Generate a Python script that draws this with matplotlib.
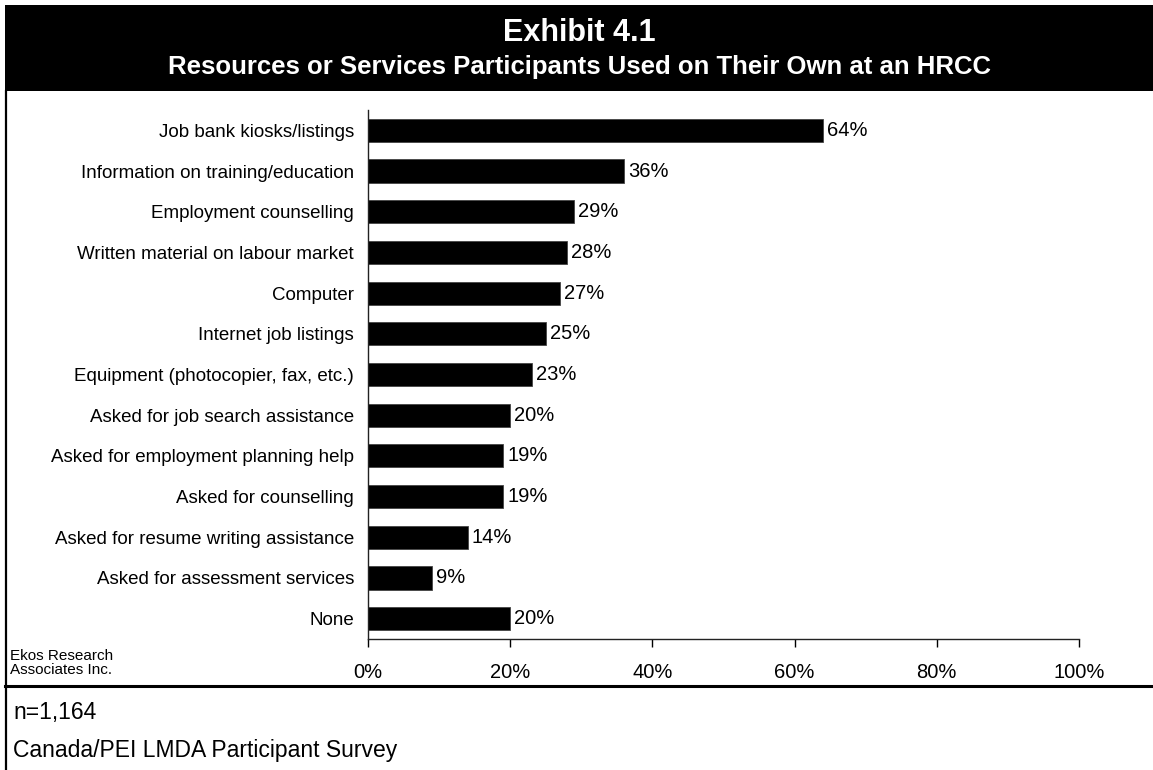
import matplotlib
matplotlib.use("Agg")
import matplotlib.pyplot as plt
from matplotlib.patches import Rectangle
from matplotlib.lines import Line2D
from matplotlib.ticker import FuncFormatter

plt.rcParams['font.family'] = ['Liberation Sans', 'DejaVu Sans']

categories = [
    "Job bank kiosks/listings",
    "Information on training/education",
    "Employment counselling",
    "Written material on labour market",
    "Computer",
    "Internet job listings",
    "Equipment (photocopier, fax, etc.)",
    "Asked for job search assistance",
    "Asked for employment planning help",
    "Asked for counselling",
    "Asked for resume writing assistance",
    "Asked for assessment services",
    "None",
]
values = [64, 36, 29, 28, 27, 25, 23, 20, 19, 19, 14, 9, 20]
xticks = [0, 20, 40, 60, 80, 100]

title = "Exhibit 4.1"
subtitle = "Resources or Services Participants Used on Their Own at an HRCC"
sample_note = "n=1,164"
source_note = "Canada/PEI LMDA Participant Survey"
credit = "Ekos Research\nAssociates Inc."

W, H = 1153, 770
fig = plt.figure(figsize=(W / 100, H / 100), dpi=100)

# header band
fig.patches.append(Rectangle((5 / W, 1 - 91 / H), 1 - 5 / W, 86 / H,
                             transform=fig.transFigure, facecolor="black",
                             edgecolor="none", zorder=0))
cx = 0.5 * (1 + 5 / W)
fig.text(cx, 1 - 33 / H, title, color="white", fontsize=22,
         fontweight="bold", ha="center", va="center")
fig.text(cx, 1 - 67 / H, subtitle, color="white", fontsize=18.5,
         fontweight="bold", ha="center", va="center")

# frame lines
fig.lines.append(Line2D([6 / W, 6 / W], [0, 1 - 91 / H], transform=fig.transFigure,
                        color="black", linewidth=1.6))
fig.lines.append(Line2D([5 / W, 1], [1 - 686 / H, 1 - 686 / H], transform=fig.transFigure,
                        color="black", linewidth=2.2))

# plot area
ax_left, ax_right = 368 / W, 1079 / W
ax_top, ax_bottom = 1 - 110 / H, 1 - 639 / H
ax = fig.add_axes([ax_left, ax_bottom, ax_right - ax_left, ax_top - ax_bottom])

y = list(range(len(categories)))
ax.barh(y, values, height=0.57, color="black", edgecolor="#444444", linewidth=0.6)
for yi, v in zip(y, values):
    ax.text(v + 0.6, yi, f"{v}%", va="center", ha="left", fontsize=14.5)

ax.set_xlim(0, 100)
ax.set_ylim(len(categories) - 0.5, -0.5)
ax.set_yticks(y)
ax.set_yticklabels(categories, fontsize=13.5)
ax.set_xticks(xticks)
ax.xaxis.set_major_formatter(FuncFormatter(lambda v, p: f"{v:.0f}%"))
ax.tick_params(axis="x", direction="out", length=6, width=1, labelsize=14.5, pad=11)
ax.tick_params(axis="y", length=0, pad=10)
for s in ["top", "right"]:
    ax.spines[s].set_visible(False)
for s in ["left", "bottom"]:
    ax.spines[s].set_linewidth(1)
    ax.spines[s].set_color("#222222")

fig.text(10 / W, 1 - 663 / H, credit, fontsize=11, ha="left", va="center",
         linespacing=1.0)
fig.text(13 / W, 1 - 712 / H, sample_note, fontsize=16.5, ha="left", va="center")
fig.text(13 / W, 1 - 750 / H, source_note, fontsize=16.5, ha="left", va="center")

fig.savefig("out.png", dpi=100, facecolor="white")
